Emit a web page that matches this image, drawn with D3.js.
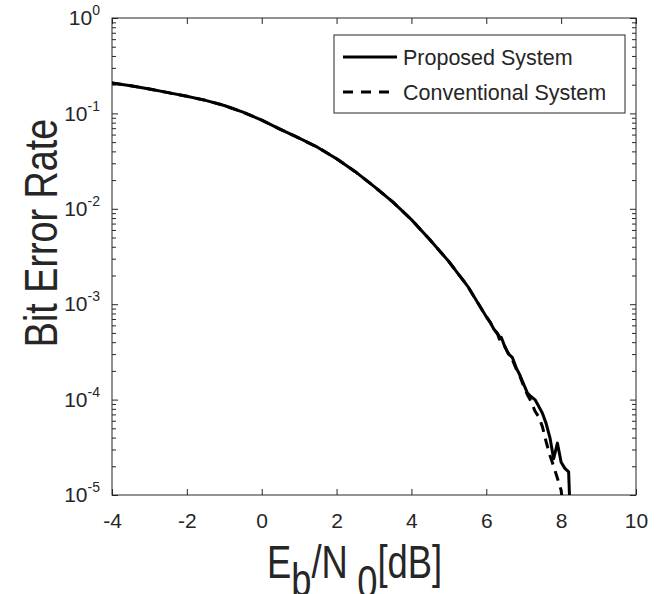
<!DOCTYPE html>
<html>
<head>
<meta charset="utf-8">
<script src="https://cdn.jsdelivr.net/npm/d3@7"></script>
<style>
  body { margin: 0; background: #fff; }
  text { font-family: "Liberation Sans", Arial, Helvetica, sans-serif; fill: #262626; }
</style>
</head>
<body>
<script>
// Data
const xTicks = [-4, -2, 0, 2, 4, 6, 8, 10];
const yTicks = [1, 1e-1, 1e-2, 1e-3, 1e-4, 1e-5];

const snrProposed = [-4, -3.5, -3, -2.5, -2, -1.5, -1, -0.5, 0, 0.5, 1, 1.5, 2, 2.5, 3, 3.5, 4, 4.5, 5, 5.5, 6,
  6.1, 6.2, 6.3, 6.35, 6.4, 6.5, 6.6, 6.7, 6.8, 6.9, 7.0, 7.1, 7.2, 7.3, 7.4, 7.5, 7.6, 7.7, 7.8, 7.9, 8.0, 8.1, 8.2, 8.25];
const berProposed = [0.208, 0.195, 0.18, 0.165, 0.151, 0.137, 0.121, 0.103, 0.085, 0.068, 0.055, 0.044, 0.0335, 0.0245,
  0.0172, 0.0118, 0.0077, 0.0047, 0.0028, 0.00155, 7.4e-4,
  6.5e-4, 5.5e-4, 4.9e-4, 4.3e-4, 4.5e-4, 3.55e-4, 3.0e-4, 2.75e-4, 2.15e-4, 1.8e-4, 1.45e-4, 1.17e-4, 1.07e-4, 1.0e-4,
  8.5e-5, 7.2e-5, 5.6e-5, 4.0e-5, 2.4e-5, 3.5e-5, 2.2e-5, 1.9e-5, 1.75e-5, 5e-6];

const snrConventional = [-4, -3.5, -3, -2.5, -2, -1.5, -1, -0.5, 0, 0.5, 1, 1.5, 2, 2.5, 3, 3.5, 4, 4.5, 5, 5.5, 6,
  6.1, 6.2, 6.3, 6.4, 6.5, 6.6, 6.7, 6.8, 6.9, 7.0, 7.1, 7.2, 7.3, 7.4, 7.5, 7.6, 7.7, 7.8, 7.9, 8.0, 8.1];
const berConventional = [0.208, 0.195, 0.18, 0.165, 0.151, 0.137, 0.121, 0.103, 0.085, 0.068, 0.055, 0.044, 0.0335, 0.0245,
  0.0172, 0.0118, 0.0077, 0.0047, 0.0028, 0.00155, 7.4e-4,
  6.5e-4, 5.5e-4, 4.9e-4, 4.3e-4, 3.6e-4, 2.95e-4, 2.6e-4, 2.1e-4, 1.75e-4, 1.38e-4, 1.12e-4, 9.5e-5, 7.6e-5,
  6.6e-5, 5.2e-5, 3.6e-5, 2.6e-5, 2.0e-5, 1.5e-5, 1.12e-5, 5e-6];

const seriesNames = ["Proposed System", "Conventional System"];

const width = 663, height = 594;
const plotLeft = 112, plotRight = 636, plotTop = 18, plotBottom = 495;
const ink = "#262626";

let svg = d3.select("body").append("svg")
  .attr("width", width)
  .attr("height", height);

let x = d3.scaleLinear().domain([-4, 10]).range([plotLeft, plotRight]);
let y = d3.scaleLog().domain([1e-5, 1]).range([plotBottom, plotTop]);

// minor tick positions on the log axis
let minor = [];
for (let e = -5; e < 0; e++) {
  for (let m = 2; m <= 9; m++) minor.push(m * Math.pow(10, e));
}

// clip
svg.append("clipPath").attr("id", "clip")
  .append("rect")
  .attr("x", plotLeft).attr("y", plotTop)
  .attr("width", plotRight - plotLeft).attr("height", plotBottom - plotTop);

// axes
function styleAxis(g) {
  g.select(".domain").remove();
  g.selectAll(".tick line").attr("stroke", ink).attr("stroke-width", 1);
}

function expLabel(d) {
  let e = Math.round(Math.log10(d));
  return e < 0 ? "-" + Math.abs(e) : "" + e;
}

svg.append("g")
  .attr("transform", `translate(0,${plotBottom})`)
  .call(d3.axisBottom(x).tickValues(xTicks).tickSize(-6).tickPadding(18))
  .call(styleAxis)
  .selectAll("text")
  .attr("font-size", 21)
  .attr("fill", ink)
  .text(d => d < 0 ? "-" + Math.abs(d) : d);

svg.append("g")
  .attr("transform", `translate(0,${plotTop})`)
  .call(d3.axisTop(x).tickValues(xTicks).tickSize(-6).tickFormat(""))
  .call(styleAxis);

let yAxisG = svg.append("g")
  .attr("transform", `translate(${plotLeft},0)`)
  .call(d3.axisLeft(y).tickValues(yTicks).tickSize(-6).tickPadding(12))
  .call(styleAxis);

yAxisG.selectAll(".tick text")
  .attr("font-size", 21)
  .attr("fill", ink)
  .text(null)
  .each(function (d) {
    let t = d3.select(this);
    t.append("tspan").text("10");
    t.append("tspan")
      .attr("dy", -10)
      .attr("font-size", 14)
      .text(expLabel(d));
  });

svg.append("g")
  .attr("transform", `translate(${plotLeft},0)`)
  .call(d3.axisLeft(y).tickValues(minor).tickSize(-4).tickFormat(""))
  .call(styleAxis);

svg.append("g")
  .attr("transform", `translate(${plotRight},0)`)
  .call(d3.axisRight(y).tickValues(yTicks).tickSize(-6).tickFormat(""))
  .call(styleAxis);

svg.append("g")
  .attr("transform", `translate(${plotRight},0)`)
  .call(d3.axisRight(y).tickValues(minor).tickSize(-4).tickFormat(""))
  .call(styleAxis);

// plot frame
svg.append("rect")
  .attr("x", plotLeft).attr("y", plotTop)
  .attr("width", plotRight - plotLeft).attr("height", plotBottom - plotTop)
  .attr("fill", "none")
  .attr("stroke", ink)
  .attr("stroke-width", 1);

// curves
let line = d3.line()
  .x(d => x(d[0]))
  .y(d => y(d[1]));

let plot = svg.append("g").attr("clip-path", "url(#clip)");

plot.append("path")
  .datum(d3.zip(snrProposed, berProposed))
  .attr("d", line)
  .attr("fill", "none")
  .attr("stroke", "#000")
  .attr("stroke-width", 3)
  .attr("stroke-linejoin", "round");

plot.append("path")
  .datum(d3.zip(snrConventional, berConventional))
  .attr("d", line)
  .attr("fill", "none")
  .attr("stroke", "#000")
  .attr("stroke-width", 3)
  .style("stroke-dasharray", "10,7");

// legend
let legend = svg.append("g");

legend.append("rect")
  .attr("x", 334).attr("y", 35)
  .attr("width", 291).attr("height", 78)
  .attr("fill", "#fff")
  .attr("stroke", ink)
  .attr("stroke-width", 1);

legend.selectAll(".legline")
  .data(seriesNames)
  .enter()
  .append("line")
  .attr("x1", 343).attr("x2", 397)
  .attr("y1", (d, i) => 57 + i * 35)
  .attr("y2", (d, i) => 57 + i * 35)
  .attr("stroke", "#000")
  .attr("stroke-width", 3)
  .style("stroke-dasharray", (d, i) => i == 1 ? "10,8" : null);

legend.selectAll(".legtext")
  .data(seriesNames)
  .enter()
  .append("text")
  .attr("x", 403)
  .attr("y", (d, i) => 65 + i * 35)
  .attr("font-size", 21.5)
  .attr("fill", "#000")
  .text(d => d);

// axis titles (narrow glyphs, as in the original)
svg.append("text")
  .attr("transform", "translate(57, 233)rotate(-90)scale(0.82,1)")
  .attr("text-anchor", "middle")
  .attr("font-size", 46)
  .text("Bit Error Rate");

let xl = svg.append("text")
  .attr("transform", "translate(267, 578)scale(0.79,1)")
  .attr("font-size", 46);
xl.append("tspan").text("E");
xl.append("tspan").attr("dy", 18).text("b");
xl.append("tspan").attr("dy", -18).text("/N");
xl.append("tspan").attr("dy", 20).attr("dx", 12).text("0");
xl.append("tspan").attr("dy", -20).text("[dB]");
</script>
</body>
</html>
